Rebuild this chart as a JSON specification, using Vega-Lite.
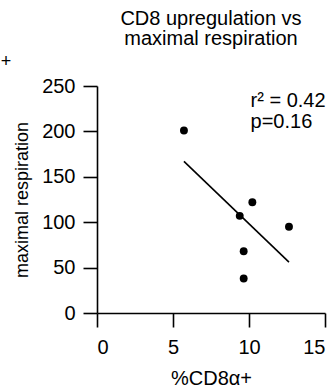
{
  "$schema": "https://vega.github.io/schema/vega-lite/v6.json",
  "width": 228,
  "height": 227,
  "autosize": {"type": "none"},
  "padding": {"left": 97, "top": 86, "right": 10, "bottom": 78},
  "background": "white",
  "config": {
    "view": {"stroke": null},
    "font": "Liberation Sans, Arial, sans-serif",
    "axis": {
      "grid": false,
      "domainColor": "#000",
      "domainWidth": 1.6,
      "tickColor": "#000",
      "tickWidth": 1.6,
      "tickSize": 14,
      "labelColor": "#000",
      "labelFontSize": 20,
      "labelFont": "Liberation Sans, Arial, sans-serif",
      "titleColor": "#000",
      "titleFontSize": 20,
      "titleFontWeight": "normal",
      "titleFont": "Liberation Sans, Arial, sans-serif"
    }
  },
  "title": {
    "text": ["CD8 upregulation vs", "maximal respiration"],
    "fontSize": 20,
    "fontWeight": "normal",
    "color": "#000",
    "font": "Liberation Sans, Arial, sans-serif",
    "anchor": "middle",
    "lineHeight": 20,
    "offset": 4
  },
  "datasets": {
    "pts": [
      {"x": 5.72, "y": 201},
      {"x": 10.22, "y": 122},
      {"x": 9.39, "y": 107},
      {"x": 12.63, "y": 95},
      {"x": 9.65, "y": 68},
      {"x": 9.65, "y": 38}
    ],
    "fit": [
      {"x": 5.72, "y": 167},
      {"x": 12.63, "y": 56}
    ],
    "notes": [
      {"x": 10.1, "y": 227, "t": "r² = 0.42"},
      {"x": 10.1, "y": 204, "t": "p=0.16"}
    ],
    "frag": [
      {"x": -6.33, "y": 276, "t": "+"}
    ]
  },
  "encoding": {
    "x": {
      "field": "x",
      "type": "quantitative",
      "scale": {"domain": [0, 15], "nice": false, "zero": false},
      "axis": {"values": [0, 5, 10, 15], "title": "%CD8α+", "labelPadding": 10, "titlePadding": 11}
    },
    "y": {
      "field": "y",
      "type": "quantitative",
      "scale": {"domain": [0, 250], "nice": false, "zero": false},
      "axis": {"values": [0, 50, 100, 150, 200, 250], "title": "maximal respiration", "titleFontSize": 18, "labelPadding": 8, "titlePadding": 10}
    }
  },
  "layer": [
    {
      "data": {"name": "fit"},
      "mark": {"type": "line", "color": "#000", "strokeWidth": 1.6}
    },
    {
      "data": {"name": "pts"},
      "mark": {"type": "circle", "color": "#000", "opacity": 1, "size": 62}
    },
    {
      "data": {"name": "notes"},
      "mark": {"type": "text", "align": "left", "baseline": "alphabetic", "fontSize": 20, "color": "#000", "font": "Liberation Sans, Arial, sans-serif"},
      "encoding": {"text": {"field": "t"}}
    },
    {
      "data": {"name": "frag"},
      "mark": {"type": "text", "align": "left", "baseline": "middle", "fontSize": 18, "color": "#000", "font": "Liberation Sans, Arial, sans-serif"},
      "encoding": {"text": {"field": "t"}}
    }
  ]
}
